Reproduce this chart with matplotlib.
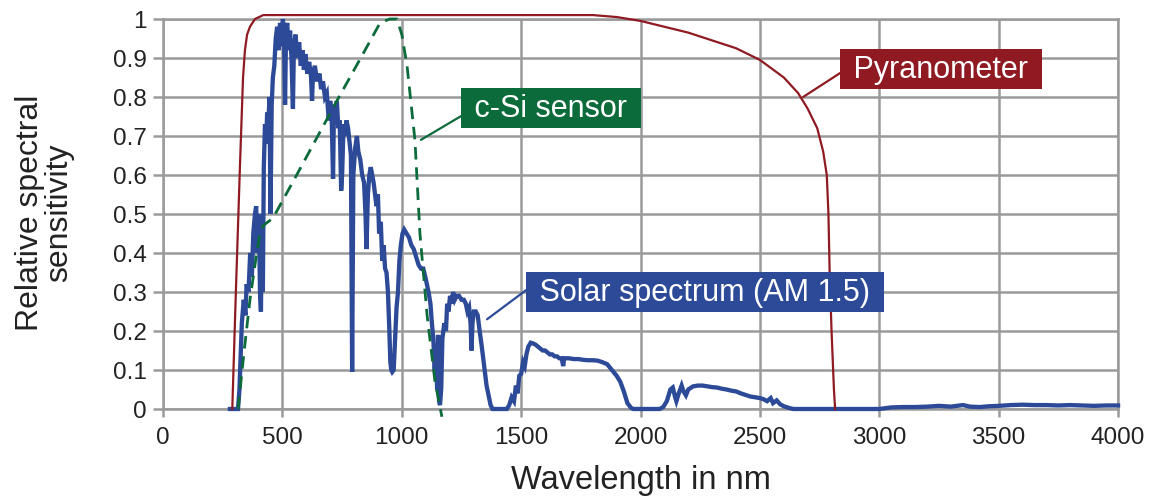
import numpy as np
import matplotlib as mpl
mpl.use('Agg')
mpl.rc('font', family=['Liberation Sans', 'DejaVu Sans'])
import matplotlib.pyplot as plt

# Solar spectrum (AM 1.5): wavelength in nm, relative value
solar_nm = [280, 314, 320, 330, 338, 345, 350, 358, 365, 372, 378, 385, 390,
            394, 397, 402, 406, 410, 414, 418, 422, 427, 432, 436, 440, 446,
            450, 455, 460, 466, 472, 478, 484, 490, 496, 502, 507, 511, 515,
            520, 526, 532, 538, 544, 548, 555, 562, 570, 577, 584, 590, 596,
            604, 612, 620, 624, 628, 636, 645, 655, 662, 670, 678, 686, 694,
            700, 706, 712, 716, 722, 728, 734, 740, 746, 750, 756, 762, 768,
            775, 782, 787, 792, 797, 805, 812, 818, 826, 834, 842, 848, 852,
            858, 864, 870, 876, 882, 888, 894, 900, 905, 912, 918, 924, 930,
            936, 942, 948, 952, 956, 960, 966, 972, 978, 984, 990, 996, 1003,
            1010, 1020, 1030, 1040, 1050, 1060, 1070, 1080, 1090, 1098, 1105,
            1112, 1120, 1126, 1132, 1138, 1142, 1148, 1152, 1156, 1160, 1165,
            1170, 1178, 1185, 1190, 1196, 1202, 1208, 1215, 1222, 1230, 1240,
            1250, 1260, 1268, 1275, 1282, 1288, 1292, 1296, 1302, 1310, 1318,
            1326, 1335, 1345, 1355, 1365, 1372, 1380, 1440, 1450, 1460, 1470,
            1478, 1485, 1492, 1500, 1508, 1515, 1522, 1530, 1540, 1550, 1560,
            1570, 1580, 1590, 1600, 1610, 1620, 1630, 1640, 1650, 1660, 1670,
            1676, 1680, 1700, 1720, 1740, 1760, 1780, 1800, 1820, 1840, 1860,
            1880, 1900, 1915, 1930, 1945, 1960, 1970, 2080, 2095, 2110, 2125,
            2135, 2145, 2150, 2160, 2172, 2180, 2190, 2200, 2220, 2240, 2260,
            2280, 2300, 2320, 2340, 2360, 2380, 2400, 2420, 2440, 2460, 2480,
            2500, 2515, 2530, 2545, 2555, 2570, 2585, 2600, 2620, 2640, 3000,
            3050, 3100, 3150, 3200, 3250, 3300, 3350, 3380, 3420, 3460, 3500,
            3550, 3600, 3650, 3700, 3750, 3800, 3850, 3900, 3950, 4000]
solar_val = [0, 0, 0.05, 0.22, 0.28, 0.24, 0.32, 0.30, 0.40, 0.34, 0.45, 0.50,
             0.52, 0.40, 0.50, 0.48, 0.30, 0.25, 0.50, 0.30, 0.62, 0.73, 0.68,
             0.76, 0.72, 0.80, 0.50, 0.78, 0.85, 0.88, 0.95, 0.98, 0.92, 0.99,
             0.93, 1.0, 0.95, 0.78, 0.96, 0.99, 0.92, 0.97, 0.90, 0.77, 0.93,
             0.96, 0.90, 0.94, 0.88, 0.92, 0.87, 0.91, 0.86, 0.89, 0.85, 0.79,
             0.86, 0.88, 0.84, 0.86, 0.82, 0.84, 0.80, 0.81, 0.74, 0.79, 0.76,
             0.59, 0.78, 0.75, 0.79, 0.72, 0.74, 0.56, 0.60, 0.73, 0.70, 0.74,
             0.72, 0.68, 0.65, 0.095, 0.60, 0.67, 0.70, 0.66, 0.64, 0.60, 0.58,
             0.50, 0.41, 0.55, 0.60, 0.62, 0.60, 0.58, 0.55, 0.52, 0.55, 0.45,
             0.48, 0.38, 0.42, 0.36, 0.35, 0.30, 0.20, 0.12, 0.10, 0.095, 0.10,
             0.18, 0.26, 0.30, 0.38, 0.42, 0.45, 0.46, 0.45, 0.44, 0.42, 0.41,
             0.39, 0.37, 0.36, 0.36, 0.34, 0.32, 0.30, 0.27, 0.22, 0.18, 0.10,
             0.16, 0.05, 0.19, 0.02, 0.01, 0.05, 0.18, 0.22, 0.20, 0.27, 0.25,
             0.29, 0.27, 0.30, 0.28, 0.29, 0.29, 0.28, 0.28, 0.27, 0.25, 0.26,
             0.22, 0.15, 0.22, 0.25, 0.25, 0.24, 0.20, 0.16, 0.11, 0.06, 0.03,
             0.01, 0.0, 0.0, 0.01, 0.03, 0.02, 0.06, 0.04, 0.085, 0.09, 0.12,
             0.11, 0.14, 0.16, 0.17, 0.168, 0.165, 0.16, 0.155, 0.15, 0.15,
             0.145, 0.14, 0.14, 0.135, 0.135, 0.13, 0.13, 0.11, 0.13, 0.13,
             0.128, 0.128, 0.126, 0.125, 0.125, 0.124, 0.12, 0.115, 0.10, 0.085,
             0.07, 0.045, 0.015, 0.003, 0, 0, 0.005, 0.02, 0.05, 0.055, 0.03,
             0.02, 0.04, 0.06, 0.045, 0.035, 0.05, 0.058, 0.06, 0.06, 0.058,
             0.056, 0.055, 0.052, 0.05, 0.047, 0.045, 0.04, 0.036, 0.032, 0.03,
             0.028, 0.025, 0.02, 0.028, 0.015, 0.022, 0.012, 0.007, 0.003, 0.0,
             0.0, 0.004, 0.005, 0.005, 0.006, 0.008, 0.006, 0.010, 0.006, 0.005,
             0.007, 0.008, 0.010, 0.011, 0.010, 0.010, 0.009, 0.010, 0.009,
             0.008, 0.009, 0.009]

# Pyranometer sensitivity
pyr_nm = [290, 305, 322, 335, 343, 352, 364, 385, 420, 1800, 1900, 2000,
          2100, 2200, 2300, 2400, 2500, 2600, 2660, 2700, 2740, 2765, 2780,
          2787, 2792, 2800, 2810, 2815]
pyr_val = [0, 0.30, 0.62, 0.85, 0.92, 0.96, 0.98, 1.0, 1.01, 1.01, 1.005,
           0.995, 0.98, 0.965, 0.945, 0.925, 0.895, 0.85, 0.81, 0.77, 0.72,
           0.66, 0.60, 0.50, 0.35, 0.20, 0.05, 0]

# c-Si sensor sensitivity
csi_nm = [314, 340, 364, 390, 406, 419, 440, 461, 573, 728, 837, 909, 950,
          980, 1000, 1022, 1055, 1076, 1106, 1139, 1168]
csi_val = [0, 0.15, 0.28, 0.39, 0.45, 0.47, 0.48, 0.49, 0.615, 0.79, 0.91,
           0.99, 1.0, 1.0, 0.96, 0.88, 0.69, 0.45, 0.24, 0.07, -0.02]

x_ticks = np.arange(0, 4001, 500)
y_ticks = np.round(np.arange(0, 1.01, 0.1), 1)
y_ticklabels = ['0'] + ['%.1f' % v for v in y_ticks[1:-1]] + ['1']

red = '#8f1a22'
green = '#0b6b3a'
blue = '#2c4a97'
grid_grey = '#9a9a9a'
text_col = '#222222'

fig = plt.figure(figsize=(11.58, 5.02), dpi=100)
ax = fig.add_axes([0.1408, 0.1833, 0.8247, 0.7769])

ax.plot(solar_nm, solar_val, color=blue, lw=3.1, zorder=3,
        solid_joinstyle='miter', clip_on=False)
ax.plot(pyr_nm, pyr_val, color=red, lw=1.6, zorder=4, clip_on=False)
ax.plot(csi_nm, csi_val, color=green, lw=2.0, ls=(0, (4.5, 2.8)), zorder=5,
        clip_on=False)

ax.set_xlim(0, 4000)
ax.set_ylim(0, 1)
ax.set_xticks(x_ticks)
ax.set_yticks(y_ticks)
ax.set_yticklabels(y_ticklabels)
ax.grid(True, color=grid_grey, lw=1.8)
ax.set_axisbelow(True)
for s in ax.spines.values():
    s.set_color(grid_grey)
    s.set_linewidth(1.8)
ax.tick_params(axis='both', color=grid_grey, width=1.8, labelsize=17.5,
               labelcolor=text_col)
ax.tick_params(axis='y', length=7, pad=5)
ax.tick_params(axis='x', length=6, pad=6)

ax.set_xlabel('Wavelength in nm', fontsize=23.5, color=text_col, va='center')
ax.xaxis.set_label_coords(0.5, -0.18)
ax.set_ylabel('Relative spectral\nsensitivity', fontsize=23, color=text_col,
              linespacing=1.0, va='center')
ax.yaxis.set_label_coords(-0.124, 0.505)

box_kw = dict(fontsize=22, color='white', ha='center', va='center',
              zorder=10)
ax.annotate(' Pyranometer ', xy=(2681, 0.80), xytext=(3258, 0.872),
            bbox=dict(boxstyle='square,pad=0.16', fc=red, ec='none'),
            arrowprops=dict(arrowstyle='-', color=red, lw=1.6,
                            relpos=(0, 0.47), shrinkA=0, shrinkB=0),
            **box_kw)
ax.annotate(' c-Si sensor ', xy=(1080, 0.69), xytext=(1625, 0.772),
            bbox=dict(boxstyle='square,pad=0.16', fc=green, ec='none'),
            arrowprops=dict(arrowstyle='-', color=green, lw=1.6,
                            relpos=(0, 0.33), shrinkA=0, shrinkB=0),
            **box_kw)
ax.annotate(' Solar spectrum (AM 1.5) ', xy=(1357, 0.23), xytext=(2270, 0.30),
            bbox=dict(boxstyle='square,pad=0.16', fc=blue, ec='none'),
            arrowprops=dict(arrowstyle='-', color=blue, lw=1.6,
                            relpos=(0, 0.69), shrinkA=0, shrinkB=0),
            **box_kw)

fig.savefig('out.png', dpi=100)
